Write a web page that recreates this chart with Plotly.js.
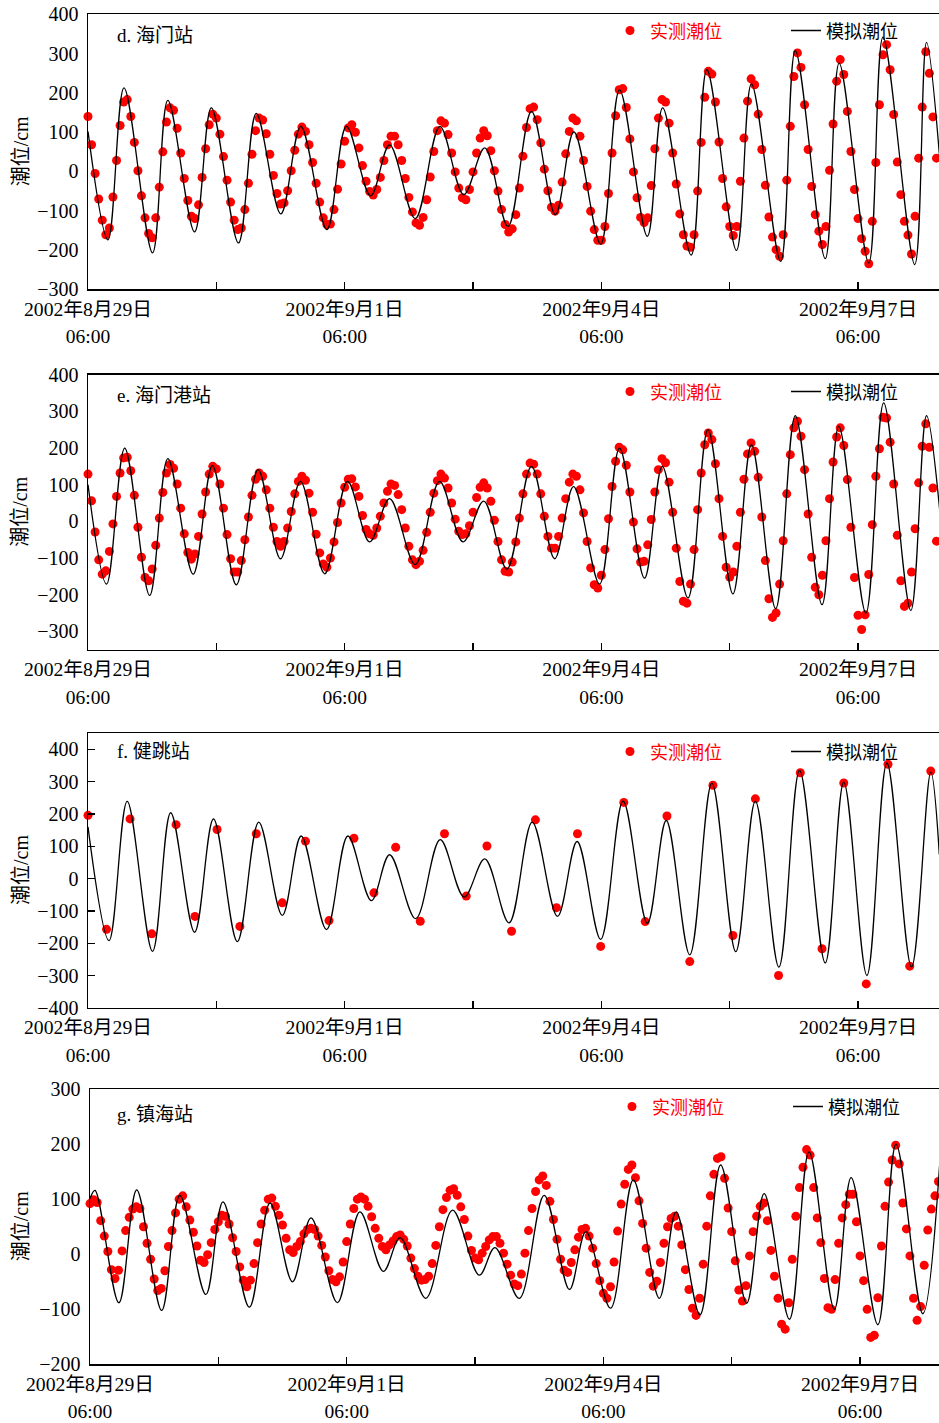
<!DOCTYPE html>
<html><head><meta charset="utf-8">
<script src="https://cdn.plot.ly/plotly-3.0.1.min.js"></script>
<style>html,body{margin:0;padding:0;background:#fff;overflow:hidden}</style>
</head><body>
<div id="chart" style="width:939px;height:1423px"></div>
<script>
// ---------- DATA (hours after 2002-08-29 06:00) ----------
const xTickVals = [0, 36, 72, 108, 144, 180, 216];
const xTickDates = ['2002年8月29日', '', '2002年9月1日', '', '2002年9月4日', '', '2002年9月7日'];
const xTickTimes = ['06:00', '', '06:00', '', '06:00', '', '06:00'];

const obsName = '实测潮位';
const simName = '模拟潮位';

// d. 海门站 — hourly observed
const haimenObs = [
 140,68,-5,-70,-124,-161,-144,-65,28,117,
 177,183,140,74,2,-62,-118,-158,-169,-118,
 -40,50,126,162,156,110,47,-18,-74,-114,
 -120,-85,-15,58,119,146,136,95,38,-22,
 -78,-124,-148,-144,-97,-30,44,104,136,131,
 96,44,-10,-56,-83,-80,-49,2,54,95,
 113,102,68,23,-30,-78,-118,-135,-134,-97,
 -45,19,77,111,119,100,60,15,-25,-51,
 -60,-46,-15,28,68,90,90,68,28,-18,
 -66,-103,-131,-137,-117,-72,-14,51,104,129,
 123,94,47,-1,-42,-67,-72,-46,-1,47,
 85,104,91,53,2,-50,-97,-135,-154,-146,
 -110,-42,39,112,160,164,132,73,6,-49,
 -91,-101,-86,-27,45,102,136,129,90,28,
 -38,-101,-148,-175,-175,-140,-56,47,142,208,
 211,163,83,-1,-67,-117,-130,-118,-36,58,
 136,183,177,123,47,-32,-108,-161,-190,-193,
 -161,-50,74,189,255,248,177,75,-18,-90,
 -140,-163,-140,-25,85,179,236,221,146,56,
 -35,-116,-167,-199,-216,-161,-22,115,242,302,
 265,170,56,-38,-110,-152,-186,-140,3,121,
 230,285,247,153,51,-46,-120,-171,-203,-235,
 -127,23,170,297,323,259,145,24,-59,-127,
 -162,-210,-114,34,164,305,250,139,34,-65
];
// d. simulated turning points (time, level)
const haimenSimT = [0,5.6,10.1,18.1,22.4,29.9,34.6,42.2,47.2,54.1,59.7,67.0,72.5,79.3,84.6,91.8,98.7,105.4,111.3,117.8,124.4,131.1,136.3,143.8,149.1,156.9,161.2,169.2,173.6,181.9,186.1,194.3,198.4,206.8,210.7,219.0,223.0,231.9,235.2,239.2];
const haimenSimV = [102,-174,213,-207,181,-154,162,-182,148,-108,115,-148,115,-62,68,-120,115,-59,60,-140,153,-110,101,-185,208,-165,162,-213,259,-201,223,-229,308,-222,276,-233,342,-237,329,0];

// e. 海门港站 — hourly observed
const haimenGangObs = [
 129,56,-29,-105,-144,-135,-82,-7,68,132,
 173,175,138,71,-16,-98,-153,-162,-130,-65,
 9,79,132,155,145,102,36,-34,-85,-103,
 -89,-41,20,80,129,150,143,102,36,-36,
 -102,-138,-138,-107,-50,12,71,115,132,123,
 86,36,-16,-55,-68,-55,-18,27,75,109,
 123,112,77,25,-35,-86,-116,-125,-100,-56,
 -3,50,93,115,116,94,68,16,-22,-34,
 -38,-18,14,50,82,102,98,73,32,-18,
 -68,-105,-118,-109,-79,-30,25,77,111,129,
 118,91,50,6,-27,-36,-34,-12,25,65,
 93,105,91,55,3,-55,-105,-136,-138,-111,
 -56,9,75,129,159,156,129,75,14,-41,
 -73,-73,-41,9,62,107,129,123,86,23,
 -55,-127,-173,-182,-147,-77,7,95,164,202,
 195,153,80,-2,-75,-111,-109,-64,5,80,
 141,171,160,107,25,-73,-164,-218,-223,-171,
 -77,32,132,209,241,223,157,62,-41,-125,
 -152,-138,-68,25,115,184,214,191,120,12,
 -107,-211,-262,-250,-171,-53,75,182,255,273,
 232,141,20,-98,-180,-200,-147,-53,62,162,
 230,255,207,114,-16,-153,-256,-295,-255,-145,
 -9,123,198,284,282,216,102,-38,-162,-232,
 -223,-138,-20,105,205,266,202,91,-54
];
const haimenGangSimT = [0,5.2,10.3,17.3,22.4,29.5,34.9,41.6,47.7,54.0,59.6,66.4,72.8,79.0,84.6,91.8,98.6,105.2,111.0,117.5,124.4,130.9,136.2,143.5,149.1,156.1,161.1,168.3,173.9,180.9,186.1,192.9,198.4,205.9,210.6,218.2,223.2,230.8,235.2,239.2];
const haimenGangSimV = [100,-171,200,-202,171,-144,152,-173,141,-102,109,-143,109,-56,62,-118,109,-56,55,-130,150,-102,95,-171,200,-155,150,-209,250,-198,209,-238,288,-227,259,-250,323,-243,288,0];

// f. 健跳站 — observed high/low waters (time, level)
const jiantiaoObsT = [0,5.2,11.8,17.9,24.7,30.0,36.2,42.6,47.2,54.5,61.0,67.6,74.6,80.2,86.3,93.2,100.0,106.1,111.9,118.8,125.5,131.4,137.3,143.8,150.3,156.3,162.4,168.8,175.3,180.9,187.2,193.7,199.8,205.9,212.0,218.3,224.4,230.5,236.4];
const jiantiaoObsV = [196,-157,185,-171,167,-117,152,-148,139,-75,116,-130,125,-44,97,-132,139,-54,101,-163,182,-90,139,-210,236,-133,194,-257,289,-176,247,-300,328,-217,296,-326,354,-271,333];
const jiantiaoSimT = [0,5.9,11.0,18.1,23.2,29.9,35.2,41.9,47.9,54.5,59.8,66.9,72.9,79.5,84.6,91.9,98.8,105.5,111.3,118.1,124.6,131.7,137.2,143.8,150.1,156.9,162.2,168.8,175.0,181.7,187.2,193.8,199.6,206.8,212.0,218.5,224.1,231.0,236.4,238.8];
const jiantiaoSimV = [160,-192,239,-225,204,-166,185,-195,175,-114,132,-158,132,-68,74,-124,121,-57,61,-137,175,-117,115,-188,240,-138,180,-236,296,-226,240,-274,335,-261,299,-300,358,-274,330,75];

// g. 镇海站 — hourly observed
const zhenhaiObs = [
 92,99,94,61,33,5,-28,-44,-29,6,
 43,67,82,86,83,50,20,-9,-45,-66,
 -62,-30,14,43,75,100,106,86,62,40,
 15,-11,-15,-1,21,45,59,71,69,55,
 30,5,-23,-47,-59,-47,-17,21,55,80,
 100,102,87,71,53,29,8,3,14,23,
 37,45,47,45,33,16,-5,-30,-46,-50,
 -41,-14,23,55,83,100,104,100,87,68,
 47,29,14,8,17,24,32,35,27,15,
 -7,-26,-40,-47,-46,-40,-17,16,50,81,
 103,116,119,107,86,63,33,7,-7,-10,
 2,14,26,32,32,20,2,-18,-38,-54,
 -57,-36,2,43,83,114,135,142,125,96,
 63,27,-9,-29,-33,-15,8,31,45,47,
 33,11,-17,-48,-71,-80,-59,-14,42,91,
 127,154,162,139,97,56,11,-33,-58,-49,
 -15,20,50,65,69,51,17,-28,-64,-98,
 -111,-80,-18,51,106,145,174,177,138,84,
 41,-12,-65,-85,-57,-3,41,69,87,93,
 61,7,-40,-80,-127,-136,-88,-9,69,121,
 158,190,180,121,66,21,-44,-97,-100,-46,
 20,66,90,109,109,59,-3,-48,-100,-151,
 -147,-79,15,87,131,171,198,164,93,46,
 -3,-80,-120,-95,-20,44,82,106,132
];
const zhenhaiSimT = [0,1.4,8.1,13.1,20.1,25.2,32.5,37.3,44.7,50.5,56.8,62.0,69.4,75.7,82.3,87.0,94.2,101.7,109.2,113.6,120.4,127.4,134.5,139.1,146.0,152.4,159.7,164.4,171.1,176.9,184.2,189.1,196.2,201.7,208.8,213.5,221.0,226.1,233.6,238.3];
const zhenhaiSimV = [101,116,-88,117,-102,107,-73,95,-96,93,-50,66,-88,77,-31,30,-80,80,-38,12,-80,107,-64,41,-98,135,-80,77,-110,162,-89,110,-118,186,-100,139,-128,200,-108,160];

const stationLabels = ['d. 海门站', 'e. 海门港站', 'f. 健跳站', 'g. 镇海站'];
const yTitle = '潮位/cm';

// ---------- LAYOUT ----------
const W = 939, H = 1423, ML = 88, PW = W - ML;
const PXH = 3.565; // px per hour
const FONT = '"Liberation Serif","Times New Roman","Noto Sans CJK SC",serif';

const hoursOf = arr => arr.map((_, i) => i);

const panels = [
  {obsX: hoursOf(haimenObs), obsY: haimenObs, simT: haimenSimT, simV: haimenSimV,
   top: 14.4, bot: 289.3, x0: 88, yr: [-300, 400], yt: [-300,-200,-100,0,100,200,300,400], yticks: '',
   labelY: 36, legY: 31, legX: 650},
  {obsX: hoursOf(haimenGangObs), obsY: haimenGangObs, simT: haimenGangSimT, simV: haimenGangSimV,
   top: 374.7, bot: 649.7, x0: 88, yr: [-350, 400], yt: [-300,-200,-100,0,100,200,300,400], yticks: '',
   labelY: 395, legY: 392, legX: 650},
  {obsX: jiantiaoObsT, obsY: jiantiaoObsV, simT: jiantiaoSimT, simV: jiantiaoSimV,
   top: 733.3, bot: 1007.8, x0: 88, yr: [-400, 450], yt: [-400,-300,-200,-100,0,100,200,300,400], yticks: 'inside',
   labelY: 751, legY: 752, legX: 650},
  {obsX: hoursOf(zhenhaiObs), obsY: zhenhaiObs, simT: zhenhaiSimT, simV: zhenhaiSimV,
   top: 1089, bot: 1364.4, x0: 90, yr: [-200, 300], yt: [-200,-100,0,100,200,300], yticks: '',
   labelY: 1114, legY: 1107, legX: 652}
];

const tickText = xTickDates.map((d, i) => d ?
  '<span style="font-size:19.7px">' + d + '</span><br><span style="font-size:19.5px">' + xTickTimes[i] + '</span>' : '');

const data = [];
const layout = {
  width: W, height: H,
  margin: {l: ML, r: 0, t: 0, b: 0, autoexpand: false},
  paper_bgcolor: '#fff', plot_bgcolor: '#fff',
  showlegend: true,
  font: {family: FONT, size: 19, color: '#000'},
  annotations: []
};

panels.forEach((p, i) => {
  const s = i === 0 ? '' : String(i + 1);
  const legName = 'legend' + s;
  data.push({
    type: 'scatter', mode: 'markers', x: p.obsX, y: p.obsY,
    xaxis: 'x' + s, yaxis: 'y' + s, legend: legName,
    name: '<span style="color:#ff0000">' + obsName + '</span>',
    legendwidth: 131,
    marker: {color: '#ff0000', size: 9, line: {width: 0}},
    cliponaxis: false, hoverinfo: 'x+y'
  });
  data.push({
    type: 'scatter', mode: 'lines', x: p.simT, y: p.simV,
    xaxis: 'x' + s, yaxis: 'y' + s, legend: legName,
    name: simName, legendwidth: 75,
    line: {color: '#000', width: 1.3, shape: 'spline', smoothing: 1}
  });
  layout['xaxis' + s] = {
    domain: [(p.x0 - ML) / PW, 1],
    range: [0, (W - p.x0) / PXH],
    anchor: 'y' + s,
    showline: true, linecolor: '#000', linewidth: 1.4, mirror: true,
    ticks: 'inside', ticklen: 7, tickwidth: 1.3, tickcolor: '#000',
    tickmode: 'array', tickvals: xTickVals, ticktext: tickText,
    tickfont: {size: 21, family: FONT, color: '#000'},
    showgrid: false, zeroline: false, fixedrange: true, automargin: false
  };
  layout['yaxis' + s] = {
    domain: [1 - p.bot / H, 1 - p.top / H],
    range: p.yr, anchor: 'x' + s,
    showline: true, linecolor: '#000', linewidth: 1.4, mirror: false,
    ticks: p.yticks, ticklen: 7, tickwidth: 1.3, tickcolor: '#000',
    tickmode: 'array', tickvals: p.yt, ticklabelstandoff: 4,
    tickfont: {size: 20, family: FONT, color: '#000'},
    showgrid: false, zeroline: false, fixedrange: true, automargin: false
  };
  layout[legName] = {
    x: (p.legX - 40 - ML) / PW, xanchor: 'left',
    y: 1 - (p.legY - 18.7) / H, yanchor: 'top',
    orientation: 'h',
    bgcolor: 'rgba(0,0,0,0)', borderwidth: 0,
    font: {size: 18, family: FONT, color: '#000'},
    traceorder: 'normal'
  };
  layout.annotations.push({
    xref: 'paper', yref: 'paper',
    x: (115 - ML) / PW, y: 1 - p.labelY / H,
    xanchor: 'left', yanchor: 'middle', showarrow: false,
    text: stationLabels[i], font: {size: 19, family: FONT, color: '#000'}
  });
  layout.annotations.push({
    xref: 'paper', yref: 'paper',
    x: (20.5 - ML) / PW, y: 1 - (p.top + p.bot) / 2 / H,
    xanchor: 'center', yanchor: 'middle', showarrow: false, textangle: -90,
    text: yTitle, font: {size: 20, family: FONT, color: '#000'}
  });
});

Plotly.newPlot('chart', data, layout, {displayModeBar: false, staticPlot: true});
</script>
</body></html>
